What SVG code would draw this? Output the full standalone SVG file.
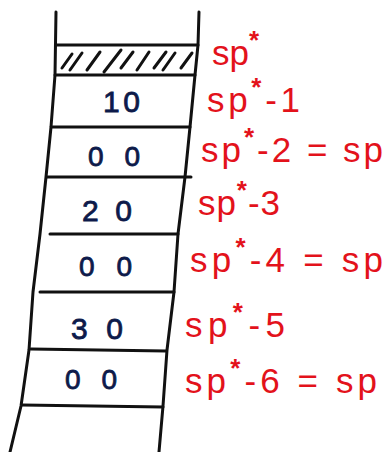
<svg xmlns="http://www.w3.org/2000/svg" width="385" height="452" viewBox="0 0 385 452">
<style>
.ln{fill:none;stroke:#111;stroke-width:3;stroke-linecap:round;stroke-linejoin:round}
.ht{fill:none;stroke:#111;stroke-width:3;stroke-linecap:round}
.num{font-family:"Liberation Sans",Arial,sans-serif;fill:#0d1a4a;stroke:#0d1a4a;stroke-width:0.8}
.big{font-size:30px}
.sm{font-size:28px}
.lbl{font-family:"Liberation Sans",Arial,sans-serif;font-size:35px;fill:#e3121b}
.sup{font-size:26px;font-weight:bold}
</style>
<rect width="385" height="452" fill="#fff"/>
<g id="connectors">
<polyline class="ln" points="56,12 55,75 51,127 46,177 40,234 33,292 29,350 21,406 10,452"/>
<polyline class="ln" points="199,12 198,45 195,75 190,127 185,177 178,234 174,292 167,350 163,406 159,452"/>
<line class="ln" x1="57" y1="45" x2="198" y2="45"/>
<line class="ln" x1="55" y1="75" x2="195" y2="75"/>
<line class="ln" x1="52" y1="127" x2="190" y2="127"/>
<line class="ln" x1="47" y1="177" x2="191" y2="177"/>
<line class="ln" x1="50" y1="234" x2="178" y2="234"/>
<line class="ln" x1="40" y1="292" x2="174" y2="292"/>
<line class="ln" x1="31" y1="349" x2="166" y2="351"/>
<line class="ln" x1="22" y1="405" x2="163" y2="407"/>
</g>
<g id="hatch">
<line class="ht" x1="62" y1="68" x2="72" y2="54"/>
<line class="ht" x1="70" y1="70" x2="82" y2="53"/>
<line class="ht" x1="87" y1="70" x2="100" y2="52"/>
<line class="ht" x1="104" y1="72" x2="121" y2="50"/>
<line class="ht" x1="121" y1="68" x2="133" y2="52"/>
<line class="ht" x1="137" y1="70" x2="149" y2="52"/>
<line class="ht" x1="154" y1="68" x2="166" y2="52"/>
<line class="ht" x1="163" y1="70" x2="175" y2="53"/>
<line class="ht" x1="181" y1="68" x2="192" y2="53"/>
</g>
<g id="cell1"><text class="num big" x="103" y="112" textLength="37" lengthAdjust="spacing">10</text></g>
<g id="cell2"><text class="num sm" x="88" y="166" textLength="52" lengthAdjust="spacing">00</text></g>
<g id="cell3"><text class="num big" x="82" y="221" textLength="50" lengthAdjust="spacing">20</text></g>
<g id="cell4"><text class="num sm" x="79" y="276" textLength="53" lengthAdjust="spacing">00</text></g>
<g id="cell5"><text class="num big" x="71" y="339" textLength="52" lengthAdjust="spacing">30</text></g>
<g id="cell6"><text class="num sm" x="65" y="389" textLength="52" lengthAdjust="spacing">00</text></g>
<g id="lbl0"><text class="lbl" x="212" y="65">sp<tspan class="sup" dy="-16">*</tspan></text></g>
<g id="lbl1"><text class="lbl" x="207" y="112" textLength="93" lengthAdjust="spacing">sp<tspan class="sup" dy="-16">*</tspan><tspan dy="16">-1</tspan></text></g>
<g id="lbl2"><text class="lbl" x="201" y="162" textLength="182" lengthAdjust="spacing">sp<tspan class="sup" dy="-16">*</tspan><tspan dy="16">-2 = sp</tspan></text></g>
<g id="lbl3"><text class="lbl" x="198" y="215" textLength="82" lengthAdjust="spacing">sp<tspan class="sup" dy="-16">*</tspan><tspan dy="16">-3</tspan></text></g>
<g id="lbl4"><text class="lbl" x="190" y="272" textLength="193" lengthAdjust="spacing">sp<tspan class="sup" dy="-16">*</tspan><tspan dy="16">-4 = sp</tspan></text></g>
<g id="lbl5"><text class="lbl" x="185" y="337" textLength="100" lengthAdjust="spacing">sp<tspan class="sup" dy="-16">*</tspan><tspan dy="16">-5</tspan></text></g>
<g id="lbl6"><text class="lbl" x="185" y="393" textLength="192" lengthAdjust="spacing">sp<tspan class="sup" dy="-16">*</tspan><tspan dy="16">-6 = sp</tspan></text></g>
</svg>
